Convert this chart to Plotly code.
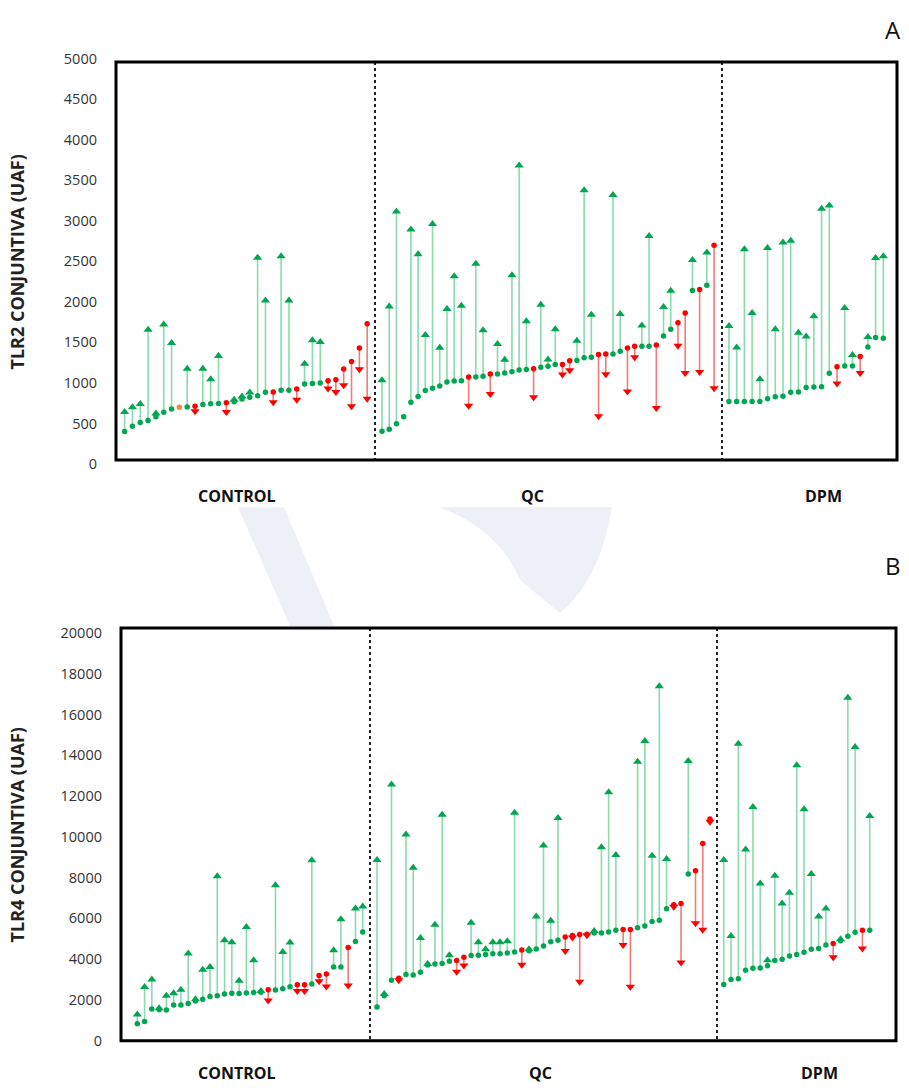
import plotly.graph_objects as go

# ---------------- data ----------------
GROUPS = ["CONTROL", "QC", "DPM"]

# Panel A : TLR2 conjuntiva (UAF) - first visit (V1) and second visit (V2)
A_CTRL_V1 = [400, 465, 510, 537, 582, 638, 679, 700, 703, 711, 735, 743, 747, 755, 767, 800,
             824, 840, 885, 889, 908, 910, 925, 985, 994, 998, 1026, 1038, 1172, 1264, 1430, 1730]
A_CTRL_V2 = [640, 700, 740, 1657, 622, 1721, 1491, 700, 1176, 650, 1176, 1046, 1333, 642, 791, 832,
             881, 2545, 2016, 760, 2561, 2016, 791, 1236, 1527, 1503, 930, 889, 970, 711, 1167, 804]
A_QC_V1 = [404, 428, 497, 582, 760, 832, 905, 933, 962, 1010, 1022, 1026, 1074, 1074, 1082, 1111,
           1111, 1123, 1139, 1160, 1164, 1176, 1192, 1204, 1228, 1228, 1273, 1277, 1309, 1317, 1349,
           1358, 1358, 1390, 1430, 1451, 1451, 1451, 1467, 1580, 1661, 1741, 1863, 2141, 2153, 2206, 2699]
A_QC_V2 = [1034, 1943, 3115, None, 2893, 2586, 1591, 2961, 1434, 1911, 2315, 1951, 719, 2469, 1648, 864,
           1479, 1285, 2327, 3681, 1761, 824, 1964, 1289, 1661, 1103, 1155, 1519, 3378, 1842, 590,
           1107, 3317, 1851, 893, 1317, 1709, 2812, 691, 1936, 2137, 1459, 1123, 2517, 1135, 2610, 933]
A_DPM_V1 = [772, 772, 772, 772, 772, 804, 828, 836, 885, 889, 942, 950, 954, 1119, 1200, 1208, 1208,
            1325, 1442, 1560, 1552]
A_DPM_V2 = [1701, 1438, 2650, 1863, 1046, 2663, 1661, 2731, 2755, 1620, 1572, 1822, 3148, 3188, 994,
            1924, 1345, 1123, 1567, 2542, 2561]

# Panel B : TLR4 conjuntiva (UAF)
B_CTRL_V1 = [835, 948, 1558, 1526, 1510, 1751, 1751, 1831, 1944, 2040, 2169, 2201, 2297, 2329, 2313,
             2345, 2361, 2378, 2506, 2490, 2554, 2651, 2747, 2747, 2779, 3197, 3277, 3614, 3614,
             4578, 4867, 5333]
B_CTRL_V2 = [1285, 2635, 3004, 1590, 2201, 2329, 2506, 4274, 2040, 3486, 3614, 8064, 4932, 4836, 2940,
             5574, 3952, 2442, 1976, 7630, 4352, 4819, 2442, 2442, 8851, 2924, 2666, 4434, 5960,
             2715, 6490, 6586]
B_QC_V1 = [1655, 2201, 2972, 3068, 3245, 3229, 3357, 3711, 3759, 3791, 3904, 3936, 4096, 4177, 4193,
           4225, 4273, 4273, 4305, 4353, 4450, 4418, 4498, 4643, 4851, 4932, 5093, 5157, 5205, 5221,
           5285, 5285, 5333, 5414, 5462, 5462, 5542, 5622, 5847, 5912, 6474, 6667, 6731, 8177, 8338,
           9671, 10876]
B_QC_V2 = [8867, 2297, 12562, 2972, 10120, 8482, 5044, 3759, 5687, 11084, 4193, 3390, 3695, 5783, 4836,
           4482, 4836, 4836, 4884, 11181, 3727, 4482, 6088, 9574, 5880, 10924, 4402, 5060, 2892, 5173,
           5383, 9494, 12193, 9108, 4691, 2651, 13687, 14699, 9076, 17382, 8916, 6570, 3839, 13719, 5768,
           5446, 10747]
B_DPM_V1 = [2763, 3004, 3036, 3454, 3550, 3566, 3679, 3936, 4000, 4161, 4225, 4337, 4482, 4530, 4691,
            4771, 4900, 5125, 5317, 5414, 5414]
B_DPM_V2 = [8867, 5140, 14570, 9381, 11470, 7711, 3952, 8096, 6731, 7261, 13510, 11357, 8177, 6088,
            6490, 4096, 4980, 16819, 14410, 4530, 11020]

A_TICKS = [0, 500, 1000, 1500, 2000, 2500, 3000, 3500, 4000, 4500, 5000]
B_TICKS = [0, 2000, 4000, 6000, 8000, 10000, 12000, 14000, 16000, 18000, 20000]

# ---------------- layout geometry (pixels) ----------------
W, H = 909, 1092
def fx(p): return p / W
def fy(p): return 1 - p / H

GREEN = "#00a651"
GREEN_LINE = "#8adbab"
RED = "#ff0000"
RED_LINE = "#f27a7a"
ORANGE = "#f08a3c"
FONT = "Open Sans, Noto Sans"

panels = [
    dict(ytitle="TLR2 CONJUNTIVA (UAF)", ticks=A_TICKS, ytop=49.5, ybot=462,
         frame=(116, 53, 897, 458), letter=("A", 893, 20), label_y=495, title_y=257,
         groups=[(A_CTRL_V1, A_CTRL_V2, 116, 375, 1.1, 1.0, 237),
                 (A_QC_V1, A_QC_V2, 375, 722, 0.97, 1.1, 532),
                 (A_DPM_V1, A_DPM_V2, 722, 897, 0.9, 1.77, 823)]),
    dict(ytitle="TLR4 CONJUNTIVA (UAF)", ticks=B_TICKS, ytop=634, ybot=1049,
         frame=(121, 629, 896, 1049), letter=("B", 893, 565), label_y=1082, title_y=840,
         groups=[(B_CTRL_V1, B_CTRL_V2, 121, 370, 2.24, 1.0, 237),
                 (B_QC_V1, B_QC_V2, 370, 717, 0.97, 0.97, 540),
                 (B_DPM_V1, B_DPM_V2, 717, 896, 0.92, 3.6, 819)]),
]

fig = go.Figure()
layout = dict(width=W, height=H, margin=dict(l=0, r=0, t=0, b=0),
              paper_bgcolor="white", plot_bgcolor="white", showlegend=False)
shapes, annotations = [], []

# faint watermark between the panels
WM = "#edf0f7"
shapes.append(dict(type="path", xref="paper", yref="paper", layer="below",
                   path="M %f,%f L %f,%f L %f,%f L %f,%f Z" % (fx(238), fy(506), fx(284), fy(506),
                                                             fx(334), fy(627), fx(290), fy(627)),
                   fillcolor=WM, line=dict(width=0)))
shapes.append(dict(type="path", xref="paper", yref="paper", layer="below",
                   path="M %f,%f L %f,%f Q %f,%f %f,%f L %f,%f Q %f,%f %f,%f Z" % (
                       fx(440), fy(506), fx(612), fy(506), fx(600), fy(580), fx(560), fy(614),
                       fx(520), fy(580), fx(500), fy(530), fx(440), fy(506)),
                   fillcolor=WM, line=dict(width=0)))

ax_i = 0
for pi, P in enumerate(panels):
    yname = "yaxis" if pi == 0 else "yaxis2"
    yref = "y" if pi == 0 else "y2"
    first_x = None
    for gi, (v1, v2, xl, xr, pl, pr, lab_x) in enumerate(P["groups"]):
        ax_i += 1
        xname = "xaxis" if ax_i == 1 else "xaxis%d" % ax_i
        xref = "x" if ax_i == 1 else "x%d" % ax_i
        if first_x is None:
            first_x = xref
        n = len(v1)
        layout[xname] = dict(domain=[fx(xl), fx(xr)], range=[-pl, n - 1 + pr],
                             anchor=yref, visible=False, fixedrange=True)
        idx = list(range(n))
        gx, gy, rx, ry = [], [], [], []
        dot_c, tip_x, tip_y, tip_s, tip_c = [], [], [], [], []
        for i in idx:
            a, b = v1[i], v2[i]
            if b is None:
                dot_c.append(GREEN)
                continue
            if b > a:
                gx += [i, i, None]; gy += [a, b, None]
                dot_c.append(GREEN)
                tip_x.append(i); tip_y.append(b); tip_s.append("triangle-up"); tip_c.append(GREEN)
            elif b < a:
                rx += [i, i, None]; ry += [a, b, None]
                dot_c.append(RED)
                tip_x.append(i); tip_y.append(b); tip_s.append("triangle-down"); tip_c.append(RED)
            else:
                dot_c.append(ORANGE)
        fig.add_trace(go.Scatter(x=gx, y=gy, mode="lines", xaxis=xref, yaxis=yref,
                                 line=dict(color=GREEN_LINE, width=1.6), hoverinfo="skip"))
        fig.add_trace(go.Scatter(x=rx, y=ry, mode="lines", xaxis=xref, yaxis=yref,
                                 line=dict(color=RED_LINE, width=1.6), hoverinfo="skip"))
        fig.add_trace(go.Scatter(x=idx, y=v1, mode="markers", xaxis=xref, yaxis=yref,
                                 marker=dict(color=dot_c, size=5.5, symbol="circle")))
        fig.add_trace(go.Scatter(x=tip_x, y=tip_y, mode="markers", xaxis=xref, yaxis=yref,
                                 marker=dict(color=tip_c, size=8, symbol=tip_s)))
        annotations.append(dict(text="<b>%s</b>" % GROUPS[gi], xref="paper", yref="paper",
                                x=fx(lab_x), y=fy(P["label_y"]), showarrow=False,
                                xanchor="center", yanchor="middle",
                                font=dict(family=FONT, size=16, color="#111111")))
        if gi > 0:
            shapes.append(dict(type="line", xref="paper", yref="paper",
                               x0=fx(xl), x1=fx(xl), y0=fy(P["frame"][1]), y1=fy(P["frame"][3]),
                               line=dict(color="#222222", width=2, dash="dot")))
    ymax = P["ticks"][-1]
    layout[yname] = dict(domain=[fy(P["ybot"]), fy(P["ytop"])], range=[0, ymax],
                         anchor=first_x, tickvals=P["ticks"],
                         ticktext=[str(t) for t in P["ticks"]],
                         showgrid=False, zeroline=False, showline=False, ticks="",
                         ticklabelstandoff=18, fixedrange=True,
                         tickfont=dict(family=FONT, size=14.5, color="#333333"))
    l, t, r, b = P["frame"]
    shapes.append(dict(type="rect", xref="paper", yref="paper", x0=fx(l), x1=fx(r),
                       y0=fy(b), y1=fy(t), line=dict(color="black", width=3)))
    annotations.append(dict(text="<b>%s</b>" % P["ytitle"], xref="paper", yref="paper",
                            x=fx(17), y=fy(P["title_y"]), showarrow=False, textangle=-90,
                            xanchor="center", yanchor="middle",
                            font=dict(family=FONT, size=18, color="#222222")))
    let, lx, ly = P["letter"]
    annotations.append(dict(text=let, xref="paper", yref="paper", x=fx(lx), y=fy(ly),
                            showarrow=False, xanchor="center", yanchor="middle",
                            font=dict(family=FONT, size=24, color="#111111")))

layout["shapes"] = shapes
layout["annotations"] = annotations
fig.update_layout(**layout)
fig.write_html("out.html")
